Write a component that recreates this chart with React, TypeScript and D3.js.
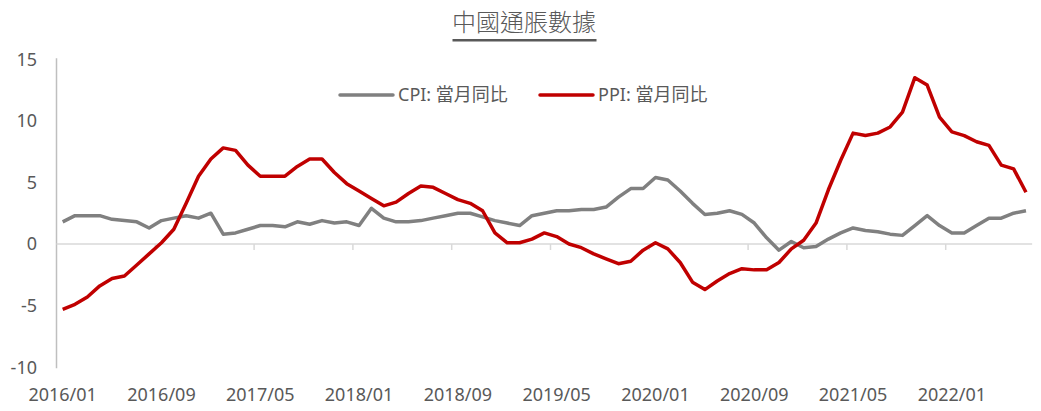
import React from "react";
import * as d3 from "d3";

const cpi: number[] = [
  1.8, 2.3, 2.3, 2.3, 2.0, 1.9, 1.8, 1.3, 1.9, 2.1, 2.3, 2.1,
  2.5, 0.8, 0.9, 1.2, 1.5, 1.5, 1.4, 1.8, 1.6, 1.9, 1.7, 1.8,
  1.5, 2.9, 2.1, 1.8, 1.8, 1.9, 2.1, 2.3, 2.5, 2.5, 2.2, 1.9,
  1.7, 1.5, 2.3, 2.5, 2.7, 2.7, 2.8, 2.8, 3.0, 3.8, 4.5, 4.5,
  5.4, 5.2, 4.3, 3.3, 2.4, 2.5, 2.7, 2.4, 1.7, 0.5, -0.5, 0.2,
  -0.3, -0.2, 0.4, 0.9, 1.3, 1.1, 1.0, 0.8, 0.7, 1.5, 2.3, 1.5,
  0.9, 0.9, 1.5, 2.1, 2.1, 2.5, 2.7,
];

const ppi: number[] = [
  -5.3, -4.9, -4.3, -3.4, -2.8, -2.6, -1.7, -0.8, 0.1, 1.2, 3.3, 5.5,
  6.9, 7.8, 7.6, 6.4, 5.5, 5.5, 5.5, 6.3, 6.9, 6.9, 5.8, 4.9,
  4.3, 3.7, 3.1, 3.4, 4.1, 4.7, 4.6, 4.1, 3.6, 3.3, 2.7, 0.9,
  0.1, 0.1, 0.4, 0.9, 0.6, 0.0, -0.3, -0.8, -1.2, -1.6, -1.4, -0.5,
  0.1, -0.4, -1.5, -3.1, -3.7, -3.0, -2.4, -2.0, -2.1, -2.1, -1.5, -0.4,
  0.3, 1.7, 4.4, 6.8, 9.0, 8.8, 9.0, 9.5, 10.7, 13.5, 12.9, 10.3,
  9.1, 8.8, 8.3, 8.0, 6.4, 6.1, 4.2,
];

const months: string[] = cpi.map((_, i) => {
  const y = 2016 + Math.floor(i / 12);
  const m = (i % 12) + 1;
  return `${y}/${m < 10 ? "0" + m : m}`;
});

const xTickLabels: string[] = [
  "2016/01", "2016/09", "2017/05", "2018/01", "2018/09",
  "2019/05", "2020/01", "2020/09", "2021/05", "2022/01",
];

const yTicks: number[] = [15, 10, 5, 0, -5, -10];

const seriesNames: string[] = ["CPI: 當月同比", "PPI: 當月同比"];

const FONT = '"Noto Sans", "Noto Sans CJK TC", sans-serif';
const TEXT = "#595959";

export default function App() {
  const W = 1041;
  const H = 411;
  const x0 = 56.5;
  const step = 12.35;
  const x = d3
    .scaleBand<string>()
    .domain(months)
    .range([x0, x0 + step * months.length])
    .paddingInner(0)
    .paddingOuter(0);
  const y = d3.scaleLinear().domain([-10, 15]).range([367.2, 59.2]);
  const cx = (i: number) => (x(months[i]) as number) + x.bandwidth() / 2;

  const line = d3
    .line<number>()
    .x((_, i) => cx(i))
    .y((d) => y(d))
    .curve(d3.curveLinear);

  const tickIdx = months
    .map((_, i) => i)
    .filter((i) => i > 0 && i % 8 === 0);

  return (
    <svg
      width={W}
      height={H}
      style={{ position: "absolute", left: 0, top: 0, background: "#fff" }}
      fontFamily={FONT}
    >
      {/* title */}
      <text
        x={524}
        y={31}
        textAnchor="middle"
        fontSize={24}
        fill={TEXT}
        fontWeight={300}
      >
        中國通脹數據
      </text>
      <rect x={452.5} y={39} width={144} height={2.5} fill={TEXT} />

      {/* y axis */}
      <line x1={x0} x2={x0} y1={y(15) - 1} y2={y(-10) + 1} stroke="#bfbfbf" strokeWidth={1.5} />
      {yTicks.map((t) => (
        <text key={t} x={37} y={y(t)} dy="0.36em" textAnchor="end" fontSize={18} fill={TEXT}>
          {t}
        </text>
      ))}

      {/* zero category axis */}
      <line
        x1={x0}
        x2={x0 + step * months.length}
        y1={y(0)}
        y2={y(0)}
        stroke="#d9d9d9"
        strokeWidth={1.5}
      />
      {tickIdx.map((i) => (
        <line
          key={i}
          x1={x(months[i]) as number}
          x2={x(months[i]) as number}
          y1={y(0)}
          y2={y(0) + 6}
          stroke="#d9d9d9"
          strokeWidth={1.5}
        />
      ))}
      {xTickLabels.map((lab) => {
        const i = months.indexOf(lab);
        return (
          <text key={lab} x={cx(i)} y={401} textAnchor="middle" fontSize={18} fill={TEXT}>
            {lab}
          </text>
        );
      })}

      {/* series */}
      <path d={line(cpi) || ""} fill="none" stroke="#808080" strokeWidth={3.5} strokeLinejoin="round" />
      <path d={line(ppi) || ""} fill="none" stroke="#c00000" strokeWidth={3.5} strokeLinejoin="round" />

      {/* legend */}
      <line x1={340} x2={393} y1={95} y2={95} stroke="#808080" strokeWidth={3.5} strokeLinecap="round" />
      <text x={398} y={95} dy="0.36em" fontSize={18} fill={TEXT}>
        {seriesNames[0]}
      </text>
      <line x1={540} x2={593} y1={95} y2={95} stroke="#c00000" strokeWidth={3.5} strokeLinecap="round" />
      <text x={598} y={95} dy="0.36em" fontSize={18} fill={TEXT}>
        {seriesNames[1]}
      </text>
    </svg>
  );
}
